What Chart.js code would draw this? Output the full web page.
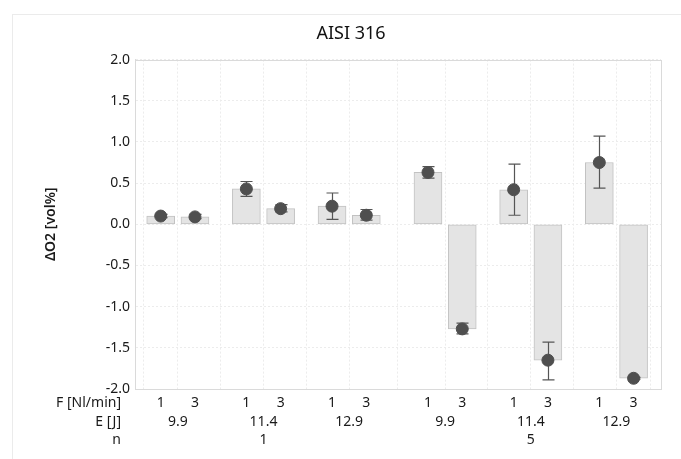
<!DOCTYPE html>
<html>
<head>
<meta charset="utf-8">
<script src="https://cdn.jsdelivr.net/npm/chart.js@4/dist/chart.umd.min.js"></script>
<style>
  body { margin: 0; background: #fff; }
  #wrap { width: 681px; height: 459px; position: relative; }
</style>
</head>
<body>
<div id="wrap"><canvas id="myChart"></canvas></div>
<script>
// AISI 316 - change of O2 per setting (mean with min/max range)
const flow = [1, 3, 1, 3, 1, 3, 1, 3, 1, 3, 1, 3]
const energy = [9.9, 11.4, 12.9, 9.9, 11.4, 12.9]
const pulses = [1, 5]
const meanO2 = [0.10, 0.09, 0.43, 0.19, 0.22, 0.11, 0.63, -1.27, 0.42, -1.65, 0.75, -1.87]
const errLow = [0.08, 0.07, 0.34, 0.15, 0.06, 0.05, 0.56, -1.33, 0.11, -1.89, 0.44, -1.88]
const errHigh = [0.12, 0.12, 0.52, 0.24, 0.38, 0.18, 0.70, -1.20, 0.73, -1.43, 1.07, -1.86]
const yTicks = [-2, -1.5, -1, -0.5, 0, 0.5, 1, 1.5, 2]

const FONT = "'Noto Sans', 'DejaVu Sans', sans-serif"
const TXT = '#1a1a1a'
const TICK_SIZE = 14

// x layout: two bars per energy, three energies per pulse block
const groupCenter = g => 1.25 + g * 2.5 + Math.floor(g / 3) * 0.3
const barX = flow.map((f, i) => groupCenter(Math.floor(i / 2)) + (i % 2 ? 0.5 : -0.5))
const groupX = energy.map((e, g) => groupCenter(g))
const blockX = pulses.map((p, b) => (groupCenter(b * 3) + groupCenter(b * 3 + 2)) / 2)
const X_MAX = 15.35

const rowAxis = (positions, labels, pad, h, extra) => Object.assign({
  type: 'linear', min: 0, max: X_MAX, position: 'bottom', offset: false,
  grid: { display: false, drawTicks: false },
  border: { display: false },
  afterBuildTicks: axis => { axis.ticks = positions.map(v => ({ value: v })) },
  afterFit: axis => { axis.height = h },
  ticks: {
    callback: (v, i) => String(labels[i]),
    autoSkip: false, maxRotation: 0, color: TXT, padding: pad,
    font: { family: FONT, size: TICK_SIZE }
  }
}, extra || {})

// outer frame, plot box, row captions and error bars
const decorations = {
  id: 'decorations',
  beforeDraw(chart) {
    const c = chart.ctx
    c.save()
    c.fillStyle = '#fff'
    c.fillRect(0, 0, chart.width, chart.height)
    c.strokeStyle = '#ebebeb'
    c.lineWidth = 1
    c.strokeRect(12.5, 14.5, chart.width + 10, chart.height + 10)
    c.restore()
  },
  afterDatasetDraw(chart, args) {
    if (args.index !== 0) return
    const c = chart.ctx, xs = chart.scales.x, ys = chart.scales.y
    c.save()
    c.strokeStyle = '#555'
    c.lineWidth = 1.2
    barX.forEach((bx, i) => {
      const px = Math.round(xs.getPixelForValue(bx)) + 0.5
      const top = ys.getPixelForValue(errHigh[i])
      const bot = ys.getPixelForValue(errLow[i])
      c.beginPath()
      c.moveTo(px, top); c.lineTo(px, bot)
      c.moveTo(px - 6, top); c.lineTo(px + 6, top)
      c.moveTo(px - 6, bot); c.lineTo(px + 6, bot)
      c.stroke()
    })
    c.restore()
  },
  afterDraw(chart) {
    const c = chart.ctx, a = chart.chartArea
    c.save()
    c.strokeStyle = '#dadada'
    c.lineWidth = 1
    c.strokeRect(Math.round(a.left) + 0.5, Math.round(a.top) + 0.5, Math.round(a.right - a.left), Math.round(a.bottom - a.top))
    c.fillStyle = TXT
    c.font = TICK_SIZE + 'px ' + FONT
    c.textAlign = 'right'
    c.textBaseline = 'middle'
    const rows = [['x', 'F [Nl/min]'], ['xE', 'E [J]'], ['xN', 'n']]
    rows.forEach(([id, text]) => {
      const s = chart.scales[id]
      const y = s.top + s.options.ticks.padding + TICK_SIZE * 0.6
      c.fillText(text, 121, y)
    })
    c.restore()
  }
}

new Chart(document.querySelector('#myChart').getContext('2d'), {
  type: 'bar',
  data: {
    datasets: [{
      type: 'bar',
      data: barX.map((x, i) => ({ x: x, y: meanO2[i] })),
      backgroundColor: '#e4e4e4',
      borderColor: '#c2c2c2',
      borderWidth: 1,
      borderSkipped: false,
      barThickness: 28,
      order: 2
    }, {
      type: 'scatter',
      data: barX.map((x, i) => ({ x: x, y: meanO2[i] })),
      backgroundColor: '#4f4f4f',
      borderColor: '#4f4f4f',
      pointRadius: 6,
      order: 1
    }]
  },
  plugins: [decorations],
  options: {
    responsive: true,
    maintainAspectRatio: false,
    animation: false,
    layout: { padding: { top: 14, right: 0, bottom: 14, left: 21 } },
    plugins: {
      legend: { display: false },
      tooltip: { enabled: false },
      title: {
        display: true,
        text: 'AISI 316',
        color: '#111',
        font: { family: FONT, size: 18, weight: 'normal' },
        padding: { top: 9, bottom: 15 }
      }
    },
    scales: {
      y: {
        min: -2, max: 2,
        afterBuildTicks: axis => { axis.ticks = yTicks.map(v => ({ value: v })) },
        afterFit: axis => { axis.width = 114 },
        grid: { color: '#ececec', drawTicks: false },
        border: { color: '#dadada', dash: [2, 2] },
        ticks: {
          callback: v => v.toFixed(1), padding: 5, color: TXT,
          font: { family: FONT, size: TICK_SIZE }
        },
        title: {
          display: true, text: 'ΔO2 [vol%]', color: TXT,
          font: { family: FONT, size: 14, weight: '600' },
          padding: { top: 22, bottom: 0 }
        }
      },
      // empty right-hand margin
      yR: {
        type: 'linear', position: 'right',
        grid: { display: false, drawTicks: false },
        border: { display: false },
        ticks: { display: false },
        afterFit: axis => { axis.width = 20 }
      },
      x: rowAxis(barX, flow, 6, 20, {
        grid: { color: '#ececec', drawTicks: false },
        border: { color: '#dadada', dash: [2, 2] }
      }),
      xE: rowAxis(groupX, energy.map(e => e.toFixed(1)), 5, 19),
      xN: rowAxis(blockX, pulses, 4, 17)
    }
  }
})
</script>
</body>
</html>
